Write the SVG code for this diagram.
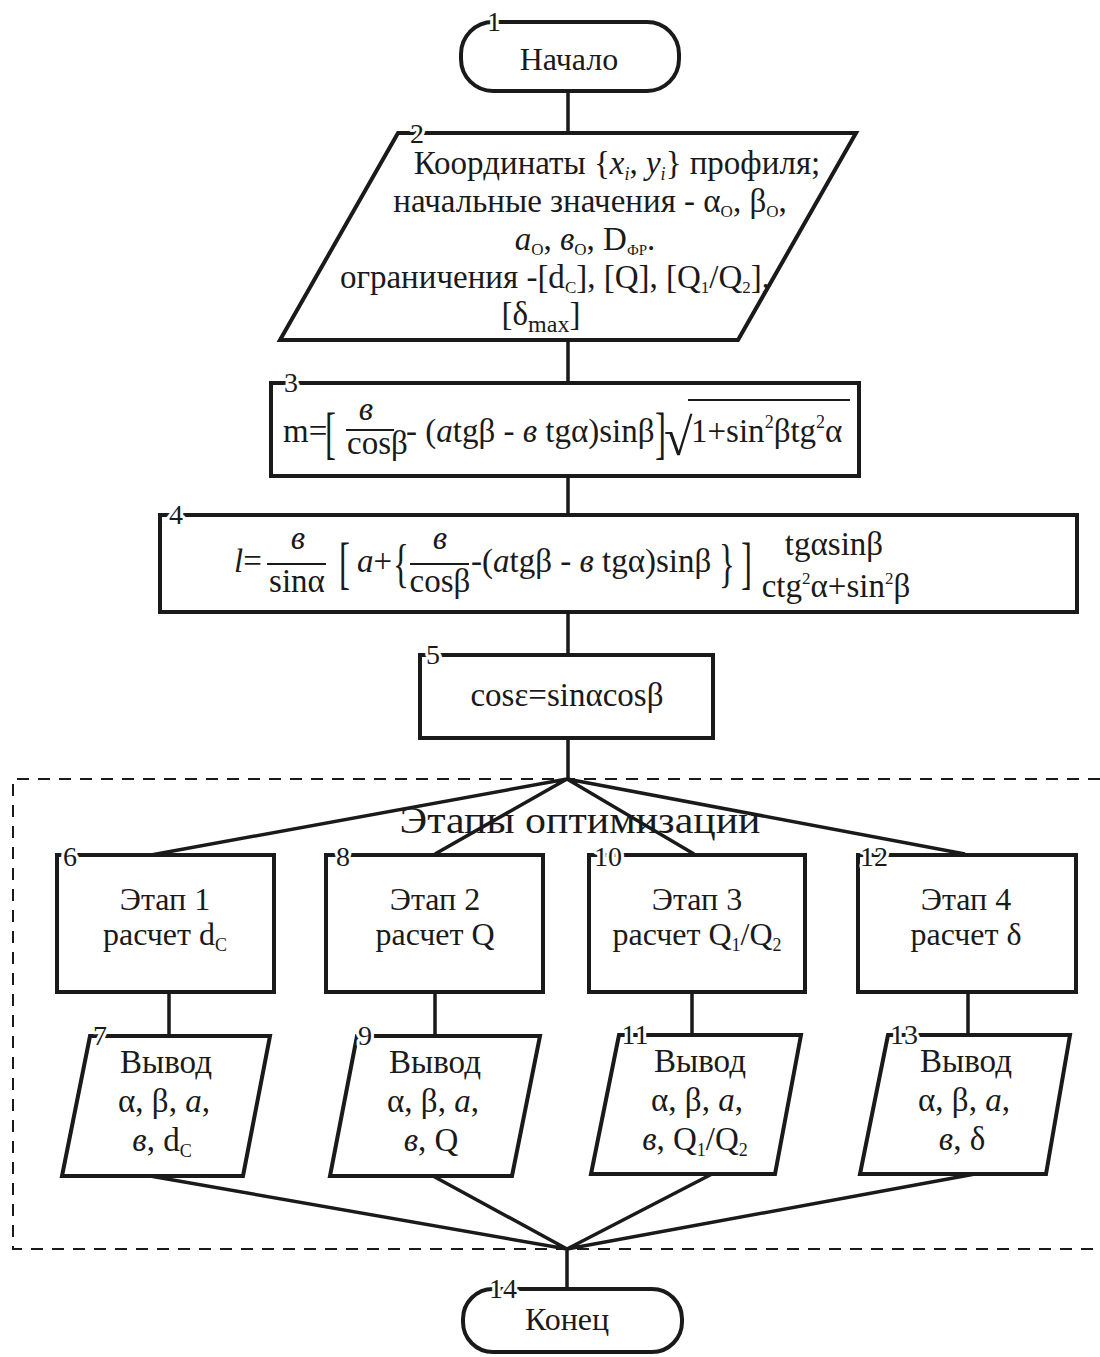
<svg xmlns="http://www.w3.org/2000/svg" width="1100" height="1357" viewBox="0 0 1100 1357">
<style>
.s{fill:#fff;stroke:#1a1a1a;stroke-width:4;stroke-linejoin:miter}
.c{fill:none;stroke:#1a1a1a;stroke-width:3.5}
.d{fill:none;stroke:#1a1a1a;stroke-width:2;stroke-dasharray:12 9}
.bar{stroke:#1a1a1a;stroke-width:1.8}
text{font-family:"Liberation Serif","Times New Roman",serif;fill:#1a1a1a}
.n{font-size:28px;stroke:#fff;stroke-width:6;paint-order:stroke;stroke-linejoin:round;text-anchor:middle}
.m{font-size:32px;text-anchor:middle}
.o{font-size:33px;text-anchor:middle}
.p{font-size:33px;text-anchor:middle}
.f{font-size:33px}
.fs{font-size:33px;text-anchor:middle}
.i{font-style:italic}
</style>
<rect width="1100" height="1357" fill="#fff"/>
<g id="frame">
<path class="d" d="M1100,779 H13 V1249 H1100"/>
</g>
<g id="connectors">
<path class="c" d="M568,91 V133 M568,340 V383 M568,476 V515 M568,612 V655 M568,738 V779"/>
<path class="c" d="M567,779 L151,855 M567,779 L435,854 M567,779 L694,854 M567,779 L965,854"/>
<path class="c" d="M169,992 V1036 M435,992 V1036 M692,992 V1035 M968,992 V1035"/>
<path class="c" d="M150,1176 L567,1249 M433,1176 L567,1249 M712,1174 L567,1249 M975,1174 L567,1249 M567,1249 V1289"/>
</g>
<g id="n1">
<rect class="s" x="461" y="22" width="218" height="69" rx="32"/>
<text class="n" x="494" y="31">1</text>
<text class="m" x="569" y="70">Начало</text>
</g>
<g id="n2">
<polygon class="s" points="398,133 856,133 738,340 280,340"/>
<text class="n" x="417" y="143">2</text>
<text class="p" x="617" y="174">Координаты {<tspan class="i">x</tspan><tspan class="i" font-size="18" dy="6">i</tspan><tspan dy="-6">, </tspan><tspan class="i">y</tspan><tspan class="i" font-size="18" dy="6">i</tspan><tspan dy="-6">} профиля;</tspan></text>
<text class="p" x="590" y="212">начальные значения - α<tspan font-size="17" dy="5">O</tspan><tspan dy="-5">, β</tspan><tspan font-size="17" dy="5">O</tspan><tspan dy="-5">,</tspan></text>
<text class="p" x="585" y="250"><tspan class="i">a</tspan><tspan font-size="17" dy="5">O</tspan><tspan dy="-5">, </tspan><tspan class="i">в</tspan><tspan font-size="17" dy="5">O</tspan><tspan dy="-5">, D</tspan><tspan font-size="15" dy="5">ФР</tspan><tspan dy="-5">.</tspan></text>
<text class="p" x="555" y="288">ограничения -[d<tspan font-size="17" dy="5">C</tspan><tspan dy="-5">], [Q], [Q</tspan><tspan font-size="17" dy="5">1</tspan><tspan dy="-5">/Q</tspan><tspan font-size="17" dy="5">2</tspan><tspan dy="-5">],</tspan></text>
<text class="p" x="541" y="325">[δ<tspan font-size="24" dy="7">max</tspan><tspan dy="-7">]</tspan></text>
</g>
<g id="n3">
<rect class="s" x="271" y="383" width="588" height="93"/>
<text class="n" x="291" y="392">3</text>
<text class="f" x="283" y="442">m=</text>
<text class="f" transform="translate(325,452) scale(1,1.7)">[</text>
<text class="fs i" x="366" y="420" font-size="26">в</text>
<line class="bar" x1="346" y1="430" x2="394" y2="430"/>
<text class="f" x="347" y="454">cosβ</text>
<text class="f" x="406" y="442">- (<tspan class="i">a</tspan>tgβ - <tspan class="i">в</tspan> tgα)sinβ</text>
<text class="f" transform="translate(655,452) scale(1,1.7)">]</text>
<text x="664" y="455" font-size="52">√</text>
<line class="bar" x1="688" y1="400" x2="850" y2="400"/>
<text class="f" x="691" y="442">1+sin<tspan font-size="18" dy="-14">2</tspan><tspan dy="14">βtg</tspan><tspan font-size="18" dy="-14">2</tspan><tspan dy="14">α</tspan></text>
</g>
<g id="n4">
<rect class="s" x="160" y="515" width="917" height="97"/>
<text class="n" x="176" y="524">4</text>
<text class="f" x="234" y="572"><tspan class="i">l</tspan>=</text>
<text class="fs i" x="298" y="549" font-size="26">в</text>
<line class="bar" x1="267" y1="564" x2="326" y2="564"/>
<text class="fs" x="297" y="592">sinα</text>
<text class="f" transform="translate(339,582) scale(1,1.7)">[</text>
<text class="f" x="357" y="572"><tspan class="i">a</tspan>+</text>
<text class="f" transform="translate(393,581) scale(1,1.6)">{</text>
<text class="fs i" x="440" y="549" font-size="26">в</text>
<line class="bar" x1="410" y1="564" x2="469" y2="564"/>
<text class="fs" x="440" y="592">cosβ</text>
<text class="f" x="471" y="572">-(<tspan class="i">a</tspan>tgβ - <tspan class="i">в</tspan> tgα)sinβ</text>
<text class="f" transform="translate(719,581) scale(1,1.6)">}</text>
<text class="f" transform="translate(741,582) scale(1,1.7)">]</text>
<text class="fs" x="834" y="555" font-size="31">tgαsinβ</text>
<text class="fs" x="836" y="597" font-size="31">ctg<tspan font-size="17" dy="-13">2</tspan><tspan dy="13">α+sin</tspan><tspan font-size="17" dy="-13">2</tspan><tspan dy="13">β</tspan></text>
</g>
<g id="n5">
<rect class="s" x="420" y="655" width="293" height="83"/>
<text class="n" x="433" y="664">5</text>
<text class="f" x="567" y="706" text-anchor="middle">cosε=sinαcosβ</text>
</g>
<text x="580" y="833" font-size="37" text-anchor="middle" textLength="361" lengthAdjust="spacingAndGlyphs">Этапы оптимизации</text>
<g id="n6">
<rect class="s" x="57" y="855" width="217" height="137"/>
<text class="n" x="70" y="866">6</text>
<text class="m" x="165" y="910">Этап 1</text>
<text class="m" x="165" y="945">расчет d<tspan font-size="18" dy="6">C</tspan></text>
</g>
<g id="n8">
<rect class="s" x="326" y="855" width="217" height="137"/>
<text class="n" x="343" y="866">8</text>
<text class="m" x="435" y="910">Этап 2</text>
<text class="m" x="435" y="945">расчет Q</text>
</g>
<g id="n10">
<rect class="s" x="589" y="855" width="216" height="137"/>
<text class="n" x="608" y="866">10</text>
<text class="m" x="697" y="910">Этап 3</text>
<text class="m" x="697" y="945">расчет Q<tspan font-size="18" dy="6">1</tspan><tspan dy="-6">/Q</tspan><tspan font-size="18" dy="6">2</tspan></text>
</g>
<g id="n12">
<rect class="s" x="858" y="855" width="218" height="137"/>
<text class="n" x="874" y="866">12</text>
<text class="m" x="966" y="910">Этап 4</text>
<text class="m" x="966" y="945">расчет δ</text>
</g>
<g id="n7">
<polygon class="s" points="90,1036 270,1036 243,1176 62,1176"/>
<text class="n" x="100" y="1045">7</text>
<text class="o" x="166" y="1073">Вывод</text>
<text class="o" x="164" y="1112">α, β, <tspan class="i">a</tspan>,</text>
<text class="o" x="162" y="1151"><tspan class="i">в</tspan>, d<tspan font-size="18" dy="6">C</tspan></text>
</g>
<g id="n9">
<polygon class="s" points="357,1036 540,1036 512,1176 330,1176"/>
<text class="n" x="365" y="1045">9</text>
<text class="o" x="435" y="1073">Вывод</text>
<text class="o" x="433" y="1112">α, β, <tspan class="i">a</tspan>,</text>
<text class="o" x="431" y="1151"><tspan class="i">в</tspan>, Q</text>
</g>
<g id="n11">
<polygon class="s" points="619,1035 801,1035 775,1174 591,1174"/>
<text class="n" x="635" y="1044">11</text>
<text class="o" x="700" y="1072">Вывод</text>
<text class="o" x="697" y="1111">α, β, <tspan class="i">a</tspan>,</text>
<text class="o" x="695" y="1150"><tspan class="i">в</tspan>, Q<tspan font-size="18" dy="6">1</tspan><tspan dy="-6">/Q</tspan><tspan font-size="18" dy="6">2</tspan></text>
</g>
<g id="n13">
<polygon class="s" points="888,1035 1070,1035 1046,1174 860,1174"/>
<text class="n" x="904" y="1044">13</text>
<text class="o" x="966" y="1072">Вывод</text>
<text class="o" x="964" y="1111">α, β, <tspan class="i">a</tspan>,</text>
<text class="o" x="962" y="1150"><tspan class="i">в</tspan>, δ</text>
</g>
<g id="n14">
<rect class="s" x="463" y="1289" width="219" height="63" rx="30"/>
<text class="n" x="503" y="1298">14</text>
<text class="m" x="567" y="1330">Конец</text>
</g>
</svg>
